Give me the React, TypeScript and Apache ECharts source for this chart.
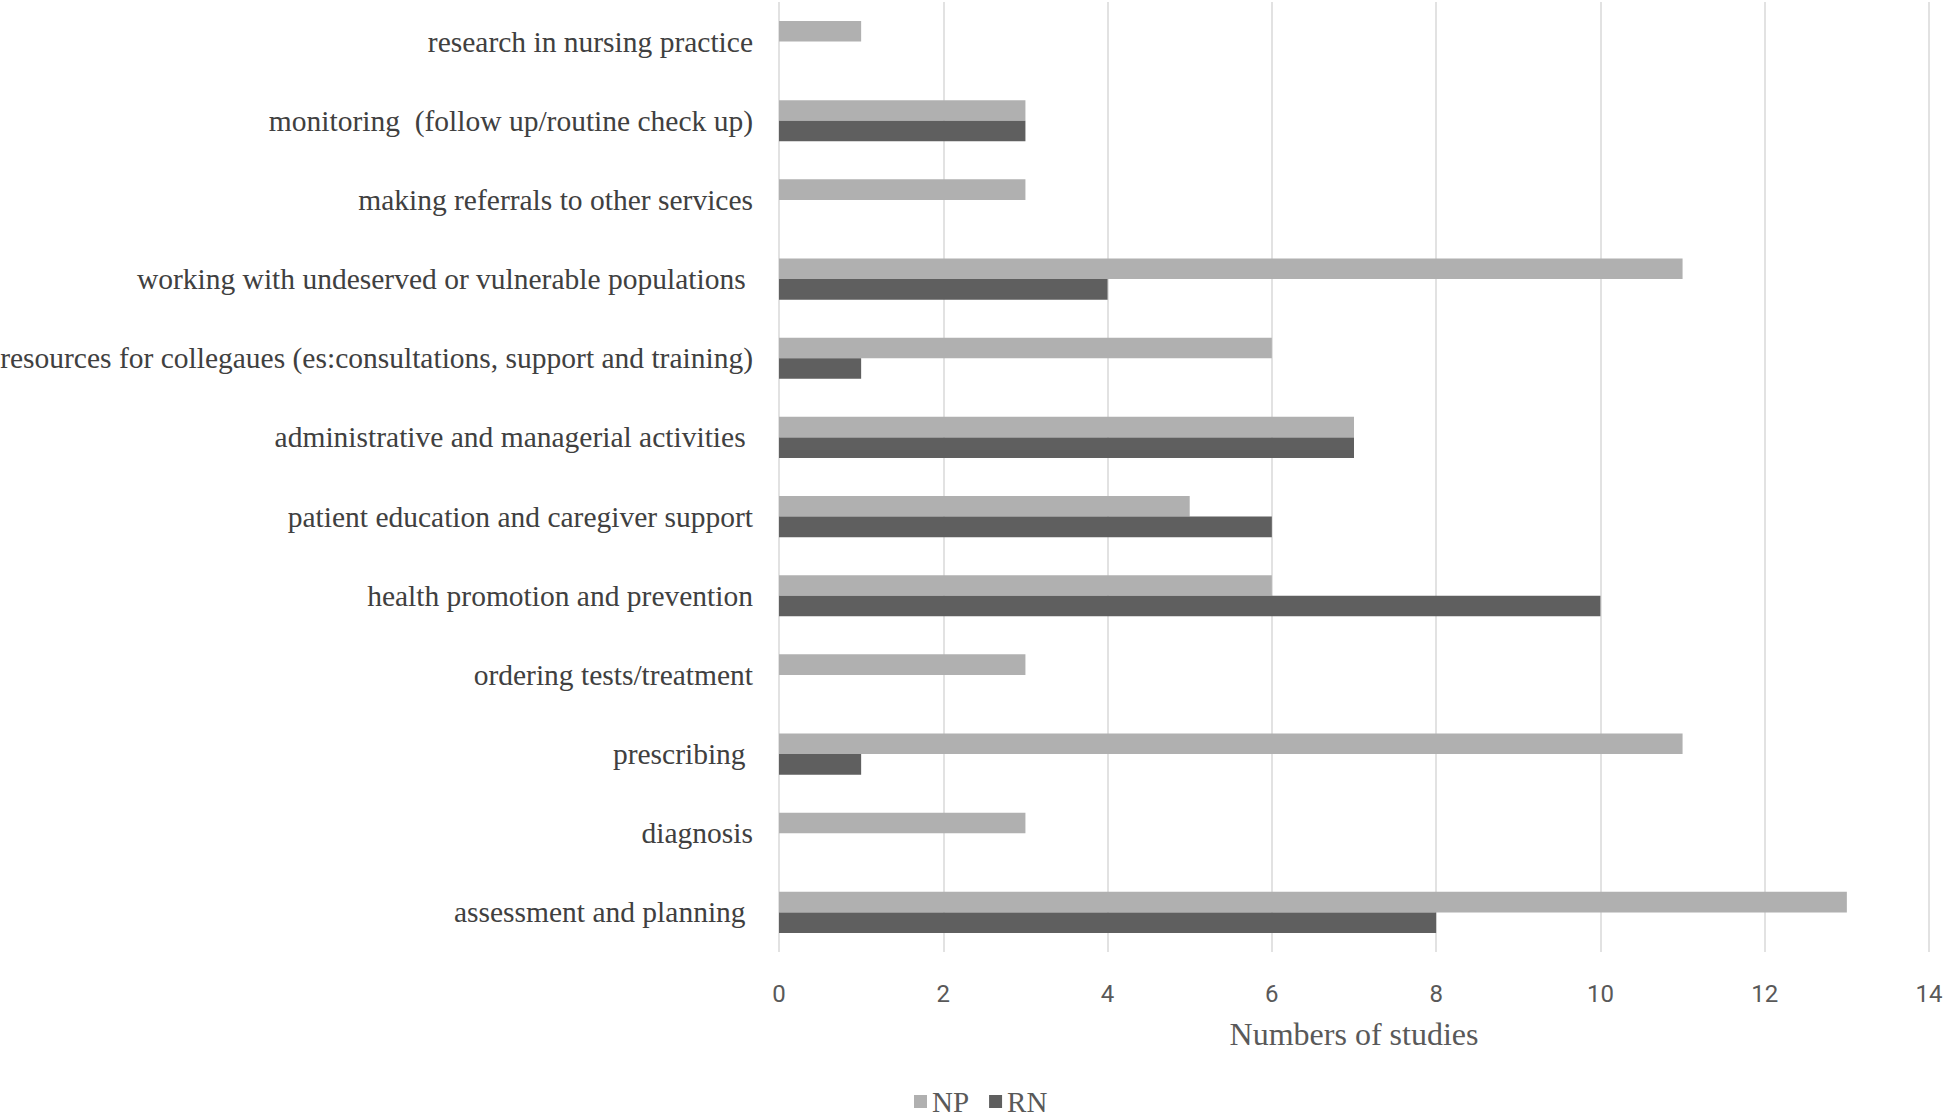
import React, { useEffect, useRef } from "react";
import * as echarts from "echarts";

const categories = [
  "research in nursing practice",
  "monitoring  (follow up/routine check up)",
  "making referrals to other services",
  "working with undeserved or vulnerable populations ",
  "resources for collegaues (es:consultations, support and training)",
  "administrative and managerial activities ",
  "patient education and caregiver support",
  "health promotion and prevention",
  "ordering tests/treatment",
  "prescribing ",
  "diagnosis",
  "assessment and planning ",
];
const npValues = [1, 3, 3, 11, 6, 7, 5, 6, 3, 11, 3, 13];
const rnValues = [0, 3, 0, 4, 1, 7, 6, 10, 0, 1, 0, 8];
const xTicks = { min: 0, max: 14, interval: 2 };

export default function App() {
  const ref = useRef<HTMLDivElement>(null);
  useEffect(() => {
    document.body.style.margin = "0";
    const chart = echarts.init(ref.current!, undefined, { renderer: "svg" });
    const serif = "'Liberation Serif', 'DejaVu Serif', serif";
    chart.setOption({
      animation: false,
      backgroundColor: "#ffffff",
      grid: {
        left: 779,
        right: 17,
        top: 2,
        bottom: 165,
        containLabel: false,
        outerBoundsMode: "none",
      },
      legend: {
        data: ["NP", "RN"],
        left: 914,
        top: 1087,
        padding: 0,
        itemWidth: 13,
        itemHeight: 13,
        itemGap: 20,
        icon: "rect",
        textStyle: { fontFamily: serif, fontSize: 29, color: "#595959", lineHeight: 29 },
      },
      xAxis: {
        type: "value",
        min: xTicks.min,
        max: xTicks.max,
        interval: xTicks.interval,
        axisLine: { show: false },
        axisTick: { show: false },
        splitLine: { show: true, lineStyle: { color: "#d9d9d9", width: 1.5 } },
        axisLabel: {
          margin: 30,
          fontSize: 24,
          color: "#595959",
          fontFamily: "'Liberation Sans Narrow', 'Roboto', sans-serif",
        },
        name: "Numbers of studies",
        nameLocation: "middle",
        nameGap: 66,
        nameTextStyle: { fontFamily: serif, fontSize: 32, color: "#595959" },
      },
      yAxis: {
        type: "category",
        data: categories,
        inverse: true,
        axisLine: { show: false },
        axisTick: { show: false },
        axisLabel: {
          margin: 26,
          fontSize: 29.5,
          color: "#404040",
          fontFamily: serif,
        },
      },
      series: [
        {
          name: "NP",
          type: "bar",
          data: npValues,
          itemStyle: { color: "#b0b0b0" },
          barGap: "0%",
          barCategoryGap: "48%",
        },
        {
          name: "RN",
          type: "bar",
          data: rnValues,
          itemStyle: { color: "#5f5f5f" },
          barGap: "0%",
          barCategoryGap: "48%",
        },
      ],
    });
    return () => chart.dispose();
  }, []);
  return <div ref={ref} style={{ width: 1946, height: 1117 }} />;
}
